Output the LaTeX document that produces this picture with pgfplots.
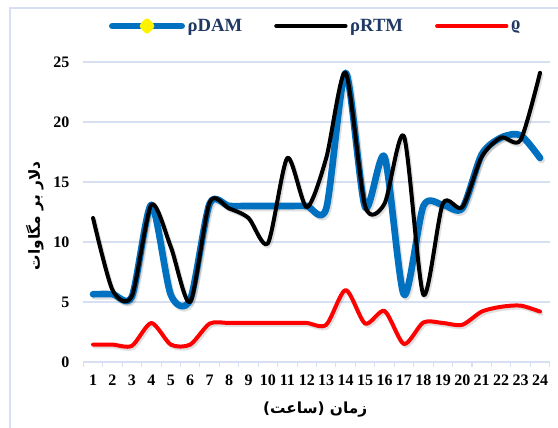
\documentclass[border=0pt]{standalone}
\usepackage{pgfplots}
\pgfplotsset{compat=1.18}
\usepackage{fontspec}
\setmainfont{Liberation Serif}
\newfontfamily\arabicfont[Script=Arabic]{DejaVu Sans}
\TeXXeTstate=1
\definecolor{gridblue}{RGB}{214,224,242}
\definecolor{damblue}{RGB}{0,112,192}
\definecolor{legtext}{RGB}{31,56,100}

% data, hour vs price
\pgfplotstableread{
h dam rtm rho
1 5.65 12 1.45
2 5.65 6 1.45
3 5.45 5.5 1.35
4 13.1 13.1 3.25
5 5.6 9.6 1.45
6 5.2 5.0 1.45
7 13.2 13.3 3.2
8 13 12.8 3.25
9 13 12 3.25
10 13 9.9 3.25
11 13 17 3.25
12 13 12.9 3.25
13 12.8 17 3.1
14 24.1 24.1 6.0
15 12.9 13.0 3.2
16 17.1 13.2 4.25
17 5.6 18.8 1.5
18 13.0 5.6 3.3
19 13.1 13.2 3.25
20 12.8 12.9 3.1
21 17.3 17.1 4.2
22 18.7 18.7 4.6
23 18.9 18.5 4.7
24 17 24.1 4.2
}\prices

\begin{document}
\begin{tikzpicture}
\path[use as bounding box] (0,0) rectangle (418.5pt,321pt);
\draw[gridblue, line width=0.8pt] (7.5pt,0) -- (7.5pt,315pt) -- (418.5pt,315pt);
\begin{axis}[
  at={(62.5pt,49.5pt)}, anchor=south west,
  scale only axis, width=349.8pt, height=225pt,
  xmin=0.5, xmax=24.5, ymin=0, ymax=25,
  xtick={1,...,24}, ytick={0,5,...,25},
  major tick length=0pt,
  extra x ticks={0.5,1.5,...,24.5}, extra x tick labels={},
  extra x tick style={major tick length=4pt, tick align=outside, tick pos=bottom, grid=none, tick style={gridblue, line width=0.8pt}},
  ymajorgrids, grid style={gridblue, line width=0.8pt},
  axis x line*=bottom, axis y line*=left,
  x axis line style={gridblue, line width=0.8pt, -},
  y axis line style={draw=none},
  /pgf/number format/assume math mode=true,
  ticklabel style={font=\fontsize{12}{13}\selectfont\bfseries},
  yticklabel style={xshift=-7pt},
  xticklabel style={yshift=-6pt},
  xlabel={\arabicfont\bfseries\beginR زمان (ساعت)\endR},
  xlabel style={at={(axis description cs:0.497,-0.16)}, anchor=center, font=\fontsize{11.5}{12}\selectfont},
  ylabel={\arabicfont\bfseries\beginR دلار بر مگاوات\endR},
  ylabel style={at={(axis description cs:-0.104,0.487)}, anchor=center, font=\fontsize{11.5}{12}\selectfont},
  legend columns=3,
  legend style={at={(0.499,1.12)}, anchor=center, draw=none, fill=none,
    font=\fontsize{14}{15}\selectfont\bfseries, text=legtext,
    /tikz/every even column/.append style={column sep=22pt}},
  legend image code/.code={\draw[#1] (0pt,0pt) -- (52pt,0pt);},
  every axis plot/.append style={smooth, tension=0.45, no markers, line cap=round, line join=round},
  shadow/.style={black, opacity=0.12, forget plot, shift={(1.2pt,-1.6pt)}},
]
% soft shadows under the lines
\addplot[shadow, line width=5pt] table[x=h, y=dam] {\prices};
\addplot[shadow, line width=3pt] table[x=h, y=rtm] {\prices};
\addplot[shadow, line width=3pt] table[x=h, y=rho] {\prices};

\addplot[damblue, line width=5pt,
  legend image code/.code={\draw[damblue, line width=5pt, line cap=round] (0pt,0pt) -- (52pt,0pt);
    \fill[yellow] (26pt,3.2pt) -- (29pt,0pt) -- (26pt,-3.2pt) -- (23pt,0pt) -- cycle;}]
  table[x=h, y=dam] {\prices};
\addlegendentry{ρDAM}
\addplot[black, line width=3pt] table[x=h, y=rtm] {\prices};
\addlegendentry{ρRTM}
\addplot[red, line width=3pt] table[x=h, y=rho] {\prices};
\addlegendentry{ϱ}
\end{axis}
\end{tikzpicture}
\end{document}
